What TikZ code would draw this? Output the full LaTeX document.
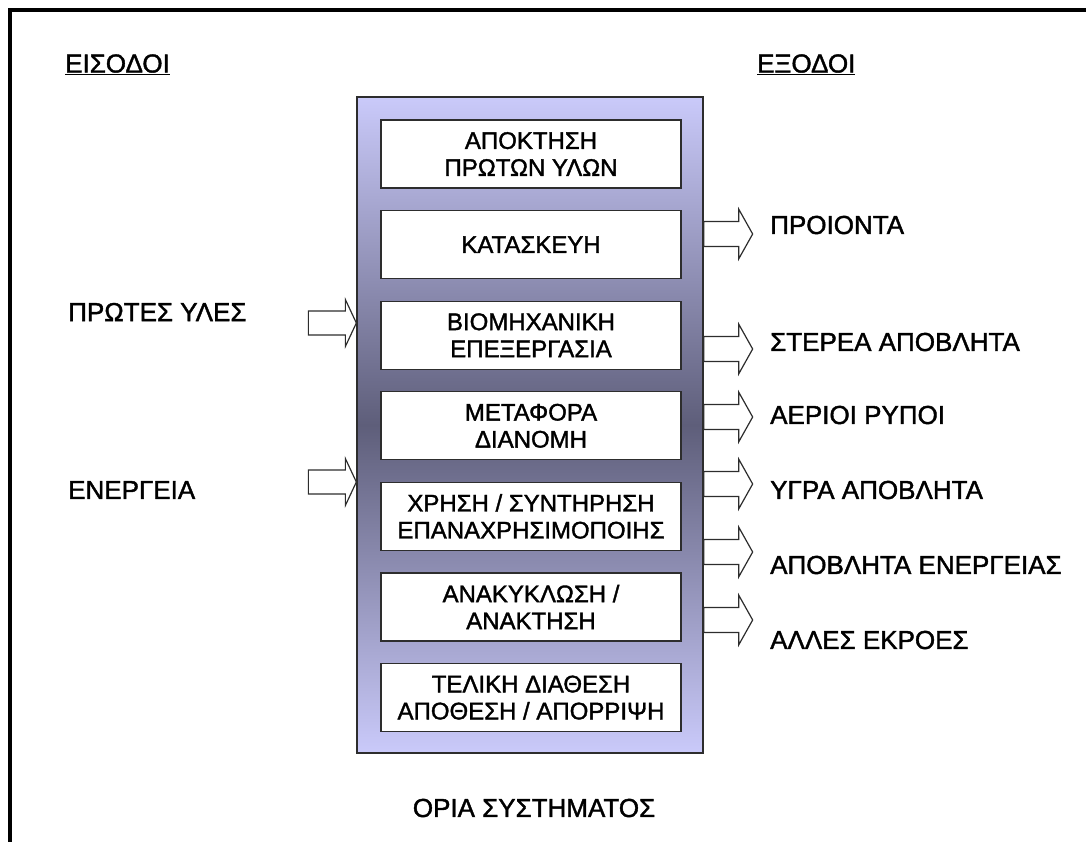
\documentclass[tikz,border=0pt]{standalone}
\usepackage{fontspec}
\setmainfont{Liberation Sans}[FakeBold=1.5]
\definecolor{colLight}{RGB}{202,202,250}
\definecolor{colDark}{RGB}{94,94,122}
\definecolor{edge}{RGB}{45,45,45}
\begin{document}
\begin{tikzpicture}[x=1pt,y=-1pt,
  stagebox/.style={draw=edge, line width=1.3pt, fill=white, minimum width=300pt,
    minimum height=68pt, align=center, inner sep=0pt,
    font=\fontsize{24}{27}\selectfont},
  lbl/.style={anchor=west, inner sep=0pt, font=\fontsize{26}{30}\selectfont},
  hdr/.style={anchor=base west, inner sep=0pt, font=\fontsize{26}{30}\selectfont},
  barrow/.style={draw=edge, line width=1.2pt, fill=white, line join=miter},
  pics/inarrow/.style={code={
    \draw[barrow] (-48,-12) -- (-11,-12) -- (-11,-23.5) -- (0,0) -- (-11,23.5)
      -- (-11,12) -- (-48,12) -- cycle;}},
  pics/outarrow/.style={code={
    \draw[barrow] (0,-12.5) -- (35,-12.5) -- (35,-25) -- (49,0) -- (35,25)
      -- (35,12.5) -- (0,12.5) -- cycle;}},
]
\useasboundingbox (0,0) rectangle (1086,841);
\begin{scope}
  \clip (0,0) rectangle (1086,841);
  \draw[line width=4pt] (10,860) -- (10,10) -- (1100,10);
\end{scope}

% headers
\node[hdr] (hin) at (65,72.5) {\underline{ΕΙΣΟΔΟΙ}};
\node[hdr] (hout) at (757,72.5) {\underline{ΕΞΟΔΟΙ}};

% system column
\node[draw=edge, line width=1.3pt, minimum width=346pt, minimum height=656pt,
  inner sep=0pt, top color=colLight, bottom color=colLight, middle color=colDark]
  (col) at (530,425) {};

\node[stagebox] (s1) at (531,154.0) {ΑΠΟΚΤΗΣΗ\\ΠΡΩΤΩΝ ΥΛΩΝ};
\node[stagebox] (s2) at (531,244.6) {ΚΑΤΑΣΚΕΥΗ};
\node[stagebox] (s3) at (531,335.2) {ΒΙΟΜΗΧΑΝΙΚΗ\\ΕΠΕΞΕΡΓΑΣΙΑ};
\node[stagebox] (s4) at (531,425.8) {ΜΕΤΑΦΟΡΑ\\ΔΙΑΝΟΜΗ};
\node[stagebox] (s5) at (531,516.4) {ΧΡΗΣΗ / ΣΥΝΤΗΡΗΣΗ\\ΕΠΑΝΑΧΡΗΣΙΜΟΠΟΙΗΣ};
\node[stagebox] (s6) at (531,607.0) {ΑΝΑΚΥΚΛΩΣΗ /\\ΑΝΑΚΤΗΣΗ};
\node[stagebox] (s7) at (531,697.6) {ΤΕΛΙΚΗ ΔΙΑΘΕΣΗ\\ΑΠΟΘΕΣΗ / ΑΠΟΡΡΙΨΗ};

\node[anchor=center, inner sep=0pt, font=\fontsize{26}{30}\selectfont] (bound) at (534,808) {ΟΡΙΑ ΣΥΣΤΗΜΑΤΟΣ};

% inputs
\node[lbl] (i1) at (68,312) {ΠΡΩΤΕΣ ΥΛΕΣ};
\node[lbl] (i2) at (68,490) {ΕΝΕΡΓΕΙΑ};
\coordinate (ia1) at (0,323);
\coordinate (ia2) at (0,482);
\path (col.west |- ia1) pic {inarrow};
\path (col.west |- ia2) pic {inarrow};

% outputs
\node[lbl] (o1) at (770,225) {ΠΡΟΙΟΝΤΑ};
\node[lbl] (o2) at (770,342) {ΣΤΕΡΕΑ ΑΠΟΒΛΗΤΑ};
\node[lbl] (o3) at (770,415) {ΑΕΡΙΟΙ ΡΥΠΟΙ};
\node[lbl] (o4) at (770,490) {ΥΓΡΑ ΑΠΟΒΛΗΤΑ};
\node[lbl] (o5) at (770,565) {ΑΠΟΒΛΗΤΑ ΕΝΕΡΓΕΙΑΣ};
\node[lbl] (o6) at (770,640) {ΑΛΛΕΣ ΕΚΡΟΕΣ};
\foreach \yy [count=\k] in {234,349,417,484,552,620} {
  \coordinate (oa\k) at (0,\yy);
  \path (col.east |- oa\k) pic {outarrow};
}
\end{tikzpicture}
\end{document}
